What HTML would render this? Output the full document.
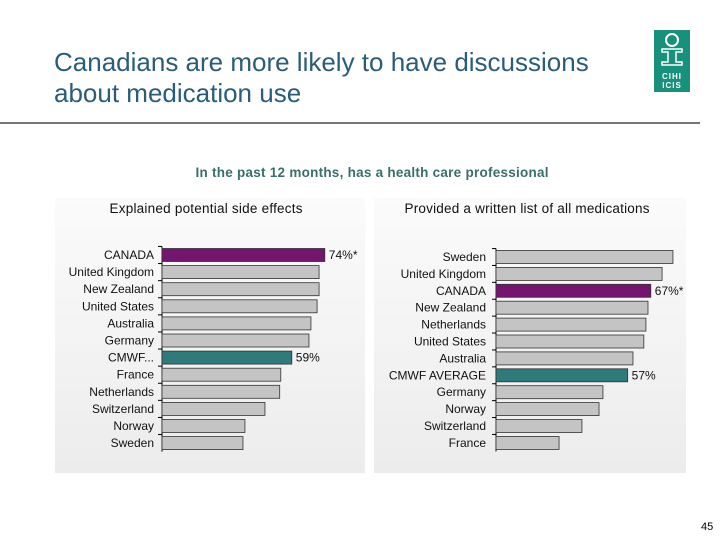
<!DOCTYPE html>
<html><head><meta charset="utf-8"><style>
body{margin:0;width:720px;height:540px;background:#fff;font-family:"Liberation Sans",sans-serif;overflow:hidden;position:relative}
.t{position:absolute;left:54px;top:47px;font-size:26px;line-height:31px;color:#2a5d7a}
</style></head><body>
<div class="t">Canadians are more likely to have discussions<br>about medication use</div>
<div style="position:absolute;left:0;top:122px;width:700px;height:2px;background:#777"></div>
<div style="position:absolute;left:654px;top:30px;width:36px;height:62px;background:#17907c;color:#fff;font-size:8px;font-weight:bold;text-align:center">
<svg width="36" height="40" viewBox="0 0 36 40"><circle cx="18" cy="10" r="6" fill="none" stroke="#fff" stroke-width="2"/><path d="M8 19h20v3h-6v10h6v3H8v-3h6V22H8z" fill="none" stroke="#fff" stroke-width="1.5"/></svg>
<div style="line-height:9px;letter-spacing:1px">CIHI<br>ICIS</div></div>
<svg id="c" width="720" height="540" style="position:absolute;left:0;top:0">
<defs><linearGradient id="g" x1="0" y1="0" x2="0" y2="1"><stop offset="0" stop-color="#fbfbfb"/><stop offset="1" stop-color="#ececec"/></linearGradient></defs>
<text x="372" y="177" text-anchor="middle" font-size="13.5" font-weight="bold" fill="#3a6e6c" textLength="353">In the past 12 months, has a health care professional</text>
<rect x="55" y="198" width="310" height="275" fill="url(#g)"/>
<rect x="374" y="198" width="312" height="275" fill="url(#g)"/>
<text x="206" y="213" text-anchor="middle" font-size="13.5" fill="#111" textLength="193">Explained potential side effects</text>
<text x="527" y="213" text-anchor="middle" font-size="13.5" fill="#111" textLength="245">Provided a written list of all medications</text>
</svg>
<div style="position:absolute;left:701px;top:521px;font-size:11px">45</div>
<script>
const leftCats=["CANADA","United Kingdom","New Zealand","United States","Australia","Germany","CMWF...","France","Netherlands","Switzerland","Norway","Sweden"];
const leftVals=[74,71.4,71.4,70.5,67.7,66.8,59,54,53.5,46.8,37.7,36.8];
const leftLabels=["74%*","","","","","","59%","","","","",""];
const rightCats=["Sweden","United Kingdom","CANADA","New Zealand","Netherlands","United States","Australia","CMWF AVERAGE","Germany","Norway","Switzerland","France"];
const rightVals=[76.6,71.9,67,65.8,64.9,64,59.3,57,46.3,44.6,37.2,27.3];
const rightLabels=["","","67%*","","","","","57%","","","",""];
const svg=document.getElementById('c');const NS="http://www.w3.org/2000/svg";
function mk(t,a){const e=document.createElementNS(NS,t);for(const k in a)e.setAttribute(k,a[k]);svg.appendChild(e);return e;}
function chart(cats,vals,labels,x0,y0,pitch,scale,side,lo){
 const ax=mk('line',{x1:x0,x2:x0,y1:y0-pitch/2,y2:y0+pitch*(cats.length-0.5),stroke:'#000'});
 
 
 cats.forEach((c,i)=>{
  const y=y0+i*pitch;
  const tk=mk('line',{x1:x0-4,x2:x0,y1:y-pitch/2,y2:y-pitch/2,stroke:'#000'});
  
  
  let col='#c4c4c4';if(c.startsWith('CANADA'))col='#74166f';if(c.startsWith('CMWF'))col='#2f7a7a';
  const r=mk('rect',{x:x0,y:y-6.5,width:vals[i]*scale,height:13,fill:col,stroke:'#333','stroke-width':0.8});
  
  
  const t=mk('text',{x:x0-lo,y:y+4,'text-anchor':'end','font-size':12,fill:'#111'});t.textContent=c;
  
  
  if(labels[i]){const v=mk('text',{x:x0+vals[i]*scale+4,y:y+4,'font-size':12,fill:'#111'});v.textContent=labels[i];
   
   }
 });
}
chart(leftCats,leftVals,leftLabels,162,255,17.1,2.2,'left',8);
chart(rightCats,rightVals,rightLabels,496,257,16.9,2.31,'right',10);
</script>
</body></html>
